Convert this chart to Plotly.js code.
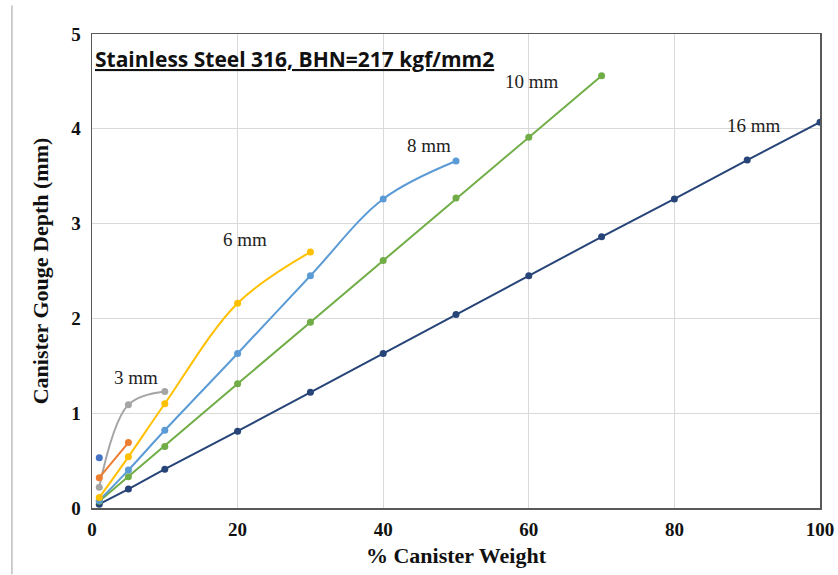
<!DOCTYPE html>
<html><head><meta charset="utf-8">
<script src="https://cdn.plot.ly/plotly-3.0.1.min.js"></script>
<style>html,body{margin:0;padding:0;background:#fff}#chart{width:838px;height:575px}</style>
</head><body><div id="chart"></div>
<script>
// Data
const xSingle = [1];
const ySingle = [0.53];
const xOrange = [1, 5];
const yOrange = [0.32, 0.69];
const x3mm = [1, 5, 10];
const y3mm = [0.22, 1.09, 1.23];
const x6mm = [1, 5, 10, 20, 30];
const y6mm = [0.11, 0.54, 1.10, 2.16, 2.70];
const x8mm = [1, 5, 10, 20, 30, 40, 50];
const y8mm = [0.08, 0.40, 0.82, 1.63, 2.45, 3.26, 3.66];
const x10mm = [1, 5, 10, 20, 30, 40, 50, 60, 70];
const y10mm = [0.07, 0.33, 0.65, 1.31, 1.96, 2.61, 3.27, 3.91, 4.56];
const x16mm = [1, 5, 10, 20, 30, 40, 50, 60, 70, 80, 90, 100];
const y16mm = [0.04, 0.20, 0.41, 0.81, 1.22, 1.63, 2.04, 2.45, 2.86, 3.26, 3.67, 4.07];
const labels = ['3 mm', '6 mm', '8 mm', '10 mm', '16 mm'];
const labelX = [6.0, 21.0, 46.3, 60.5, 91.0];
const labelY = [1.38, 2.83, 3.82, 4.50, 4.04];
const titleText = 'Stainless Steel 316, BHN=217 kgf/mm2';

function tr(x, y, color, smooth) {
  return {x: x, y: y, type: 'scatter', mode: 'lines+markers',
    line: {color: color, width: 2, shape: smooth ? 'spline' : 'linear', smoothing: 1},
    marker: {color: color, size: 7}, hoverinfo: 'none', showlegend: false};
}
const data = [
  tr(x16mm, y16mm, '#264478', false),
  tr(x10mm, y10mm, '#70AD47', false),
  tr(x8mm, y8mm, '#5B9BD5', true),
  tr(x6mm, y6mm, '#FFC000', true),
  tr(x3mm, y3mm, '#A5A5A5', true),
  tr(xOrange, yOrange, '#ED7D31', false),
  tr(xSingle, ySingle, '#4472C4', false)
];
const serif = 'Liberation Serif, Times New Roman, serif';
const annFont = {family: serif, size: 19, color: '#222'};
const annotations = labels.map((t, i) => ({x: labelX[i], y: labelY[i], xref: 'x', yref: 'y',
  text: t, showarrow: false, font: annFont}));
annotations.push({xref: 'paper', yref: 'paper', x: 0.002, y: 0.982, xanchor: 'left', yanchor: 'top',
  text: '<u>' + titleText + '</u>', showarrow: false,
  font: {family: 'Open Sans, sans-serif', size: 21, color: '#111', weight: 'bold'}});
const tickFont = {family: serif, size: 19, color: '#111', weight: 'bold'};
const layout = {
  width: 838, height: 575,
  margin: {l: 92, r: 18, t: 34, b: 67},
  paper_bgcolor: '#fff', plot_bgcolor: '#fff',
  xaxis: {range: [0, 100], dtick: 20, showgrid: true, gridcolor: '#d9d9d9', gridwidth: 1,
    zeroline: false, showline: true, linecolor: '#595959', linewidth: 1.5, mirror: true,
    ticks: '', tickfont: tickFont, ticklabelstandoff: 4,
    title: {text: '<b>% Canister Weight</b>', font: {family: serif, size: 22, color: '#111'}, standoff: 8}},
  yaxis: {range: [0, 5], dtick: 1, showgrid: true, gridcolor: '#d9d9d9', gridwidth: 1,
    zeroline: false, showline: true, linecolor: '#595959', linewidth: 1.5, mirror: true,
    ticks: '', tickfont: tickFont, ticklabelstandoff: 6,
    title: {text: '<b>Canister Gouge Depth (mm)</b>', font: {family: serif, size: 22, color: '#111'}, standoff: 16}},
  annotations: annotations,
  shapes: [{type: 'line', xref: 'paper', yref: 'paper', x0: -0.11, x1: -0.11, y0: -0.14, y1: 1.06,
    line: {color: '#bfbfbf', width: 1.5}}]
};
Plotly.newPlot('chart', data, layout, {displayModeBar: false, staticPlot: true});
</script></body></html>
